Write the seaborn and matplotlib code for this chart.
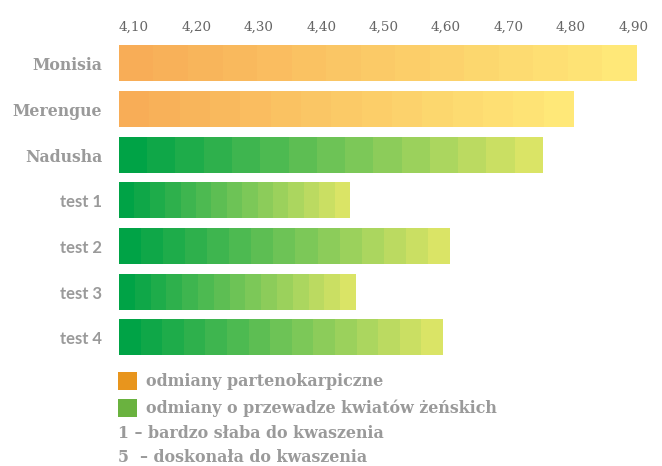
import numpy as np
import pandas as pd
import matplotlib
matplotlib.use("Agg")
import matplotlib.pyplot as plt
import seaborn as sns
from matplotlib.colors import LinearSegmentedColormap
from matplotlib.patches import Rectangle

# =========================
# data
# =========================
varieties = ["Monisia", "Merengue", "Nadusha", "test 1", "test 2", "test 3", "test 4"]
scores = [4.905, 4.805, 4.755, 4.445, 4.605, 4.455, 4.595]
groups = ["parteno", "parteno", "female", "female", "female", "female", "female"]
tick_values = [4.10, 4.20, 4.30, 4.40, 4.50, 4.60, 4.70, 4.80, 4.90]
legend_labels = ["odmiany partenokarpiczne", "odmiany o przewadze kwiatów żeńskich"]
note_labels = ["1 – bardzo słaba do kwaszenia", "5  – doskonała do kwaszenia"]

df = pd.DataFrame({"odmiana": varieties, "ocena": scores, "grupa": groups})

# gradient colours per group (start -> end) and legend swatches
grad_colors = {
    "parteno": ["#F8AD57", "#FFE878"],
    "female": ["#00A346", "#DAE466"],
}
legend_colors = ["#E8951D", "#6AB23F"]
n_steps = 15

sns.set_theme(style="white")
plt.rcParams["font.family"] = ["DejaVu Serif", "DejaVu Sans"]

fig = plt.figure(figsize=(6.62, 4.66), dpi=100)
ax = fig.add_axes([119 / 662, 1 - 360.5 / 466, 531 / 662, 319.5 / 466])

# axis starts a bit left of 4,10 like the original
x_min = 4.076
x_max = x_min + 531 / 624.0

sns.barplot(data=df, x="ocena", y="odmiana", orient="h", width=0.77,
            color="white", ax=ax)

# stepped gradient on every bar
for patch, val, grp in zip(ax.patches, scores, groups):
    y0 = patch.get_y()
    h = patch.get_height()
    cmap = LinearSegmentedColormap.from_list(grp, grad_colors[grp])
    grad = np.linspace(0, 1, n_steps).reshape(1, -1)
    ax.imshow(grad, cmap=cmap, aspect="auto", interpolation="nearest",
              extent=[x_min, val, y0 + h, y0], zorder=2)
    patch.set_visible(False)

ax.set_xlim(x_min, x_max)
ax.set_ylim(6.5, -0.5)

ax.xaxis.tick_top()
ax.set_xticks(tick_values)
ax.set_xticklabels([f"{v:.2f}".replace(".", ",") for v in tick_values],
                   fontsize=9.7, color="#666666")
ax.tick_params(axis="x", length=0, pad=5)
ax.tick_params(axis="y", length=0, pad=12)
ax.set_xlabel("")
ax.set_ylabel("")

for lbl in ax.get_yticklabels():
    lbl.set_color("#9a9a9a")
    lbl.set_fontweight("bold")
    if lbl.get_text().startswith("test"):
        lbl.set_family("Lato")
        lbl.set_fontsize(12)
    else:
        lbl.set_fontsize(11.3)

sns.despine(ax=ax, left=True, bottom=True, top=True, right=True)
ax.grid(False)

# =========================
# legend below
# =========================
sq_y = [372, 399]
for c, lab, y in zip(legend_colors, legend_labels, sq_y):
    fig.add_artist(Rectangle((118 / 662, 1 - (y + 18) / 466), 19 / 662, 18 / 466,
                             transform=fig.transFigure, color=c, lw=0))
    fig.text(146 / 662, 1 - (y + 9) / 466, lab, fontsize=11.4, fontweight="bold",
             color="#9a9a9a", va="center", ha="left")

for lab, y in zip(note_labels, [434, 458]):
    fig.text(118 / 662, 1 - y / 466, lab, fontsize=11.4, fontweight="bold",
             color="#9a9a9a", va="center", ha="left")

fig.savefig("out.png", dpi=100)
